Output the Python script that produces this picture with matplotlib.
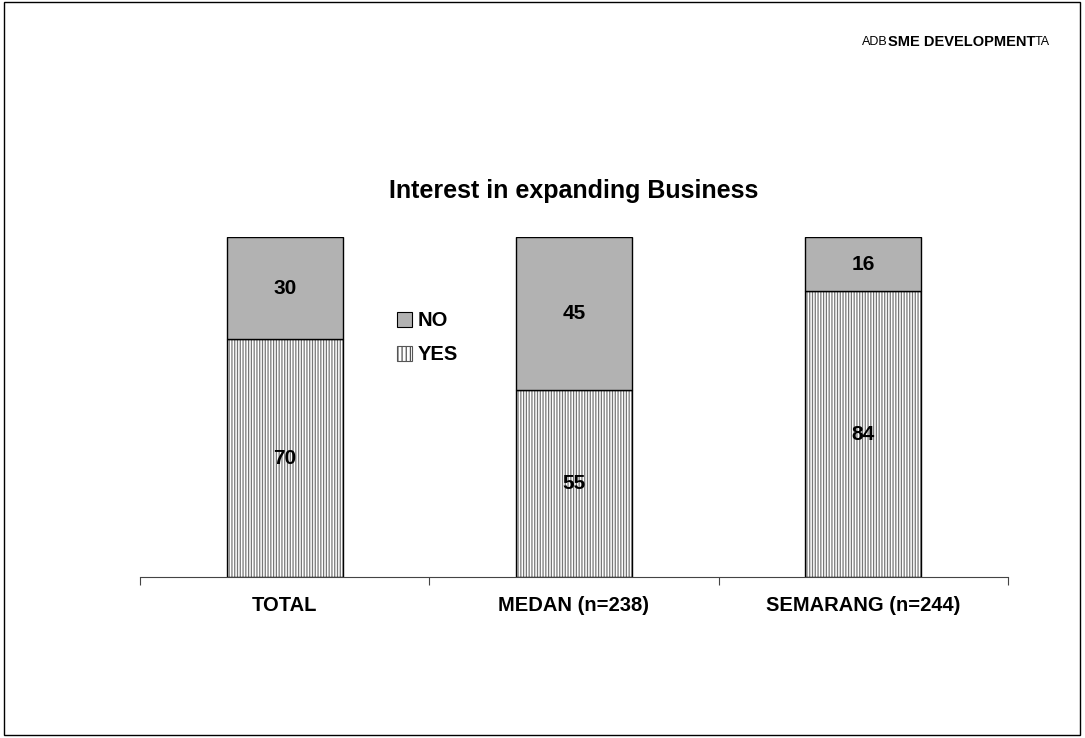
import numpy as np
import matplotlib.pyplot as plt
from matplotlib.patches import Rectangle

# survey share (%) of firms interested in expanding
categories = ["TOTAL", "MEDAN (n=238)", "SEMARANG (n=244)"]
yes_vals = [70, 55, 84]
no_vals = [30, 45, 16]

plt.rcParams['font.family'] = ['Liberation Sans', 'DejaVu Sans']
plt.rcParams['hatch.linewidth'] = 0.9

W, H = 1085, 738
fig = plt.figure(figsize=(W / 100, H / 100), dpi=100)

# page frame
fig.patches.append(Rectangle((4 / W, 3 / H), 1076 / W, 733 / H, transform=fig.transFigure,
                             fill=False, edgecolor='black', linewidth=1.0))

ax = fig.add_axes([140 / W, 1 - 577 / H, 868 / W, 340 / H])
x = np.arange(len(categories))
bw = 0.4

# grey vertical hatch for YES, then black outlines on top
ax.bar(x, yes_vals, width=bw, color='white', edgecolor='#777777', hatch='||||||',
       linewidth=0)
ax.bar(x, yes_vals, width=bw, fill=False, edgecolor='black', linewidth=1.0)
ax.bar(x, no_vals, width=bw, bottom=yes_vals, color='#b2b2b2', edgecolor='black',
       linewidth=1.0)

for i in range(len(categories)):
    ax.text(x[i], yes_vals[i] / 2, str(yes_vals[i]), ha='center', va='center',
            fontsize=15, fontweight='bold')
    ax.text(x[i], yes_vals[i] + no_vals[i] / 2, str(no_vals[i]), ha='center', va='center',
            fontsize=15, fontweight='bold')

ax.set_xlim(-0.5, len(categories) - 0.5)
ax.set_ylim(0, 100)
for s in ['left', 'right', 'top']:
    ax.spines[s].set_visible(False)
ax.spines['bottom'].set_color('#444444')
ax.set_yticks([])
ax.set_xticks(np.arange(len(categories) + 1) - 0.5)
ax.set_xticklabels([])
ax.tick_params(axis='x', length=6, width=0.8, color='#444444', direction='out')
for i, c in enumerate(categories):
    ax.text(x[i], -8.5, c, ha='center', va='center', fontsize=14.5, fontweight='bold')

# legend: NO above YES
h_no = Rectangle((0, 0), 1, 1, facecolor='#b2b2b2', edgecolor='black', linewidth=0.8)
h_yes = Rectangle((0, 0), 1, 1, facecolor='white', edgecolor='#555555', hatch='||||',
                  linewidth=0.8)
ax.legend([h_no, h_yes], ['NO', 'YES'], loc='upper left', bbox_to_anchor=(0.275, 0.835),
          frameon=False, prop={'weight': 'bold', 'size': 14.5},
          handlelength=0.75, handleheight=0.75, handletextpad=0.3, labelspacing=0.75)

fig.text(0.5 * (140 + 1008) / W, 1 - 191 / H, "Interest in expanding Business",
         ha='center', va='center', fontsize=18, fontweight='bold')

# header tag: ADB + SME DEVELOPMENT + TA run together
renderer = fig.canvas.get_renderer()
hy = 1 - 42 / H
xr = 1050
for txt, kw in [("TA", dict(fontsize=9)),
                ("SME DEVELOPMENT", dict(fontsize=10.5, fontweight='bold')),
                ("ADB", dict(fontsize=9))]:
    t = fig.text(xr / W, hy, txt, ha='right', va='center', **kw)
    xr -= t.get_window_extent(renderer).width

fig.savefig('out.png', dpi=100)
